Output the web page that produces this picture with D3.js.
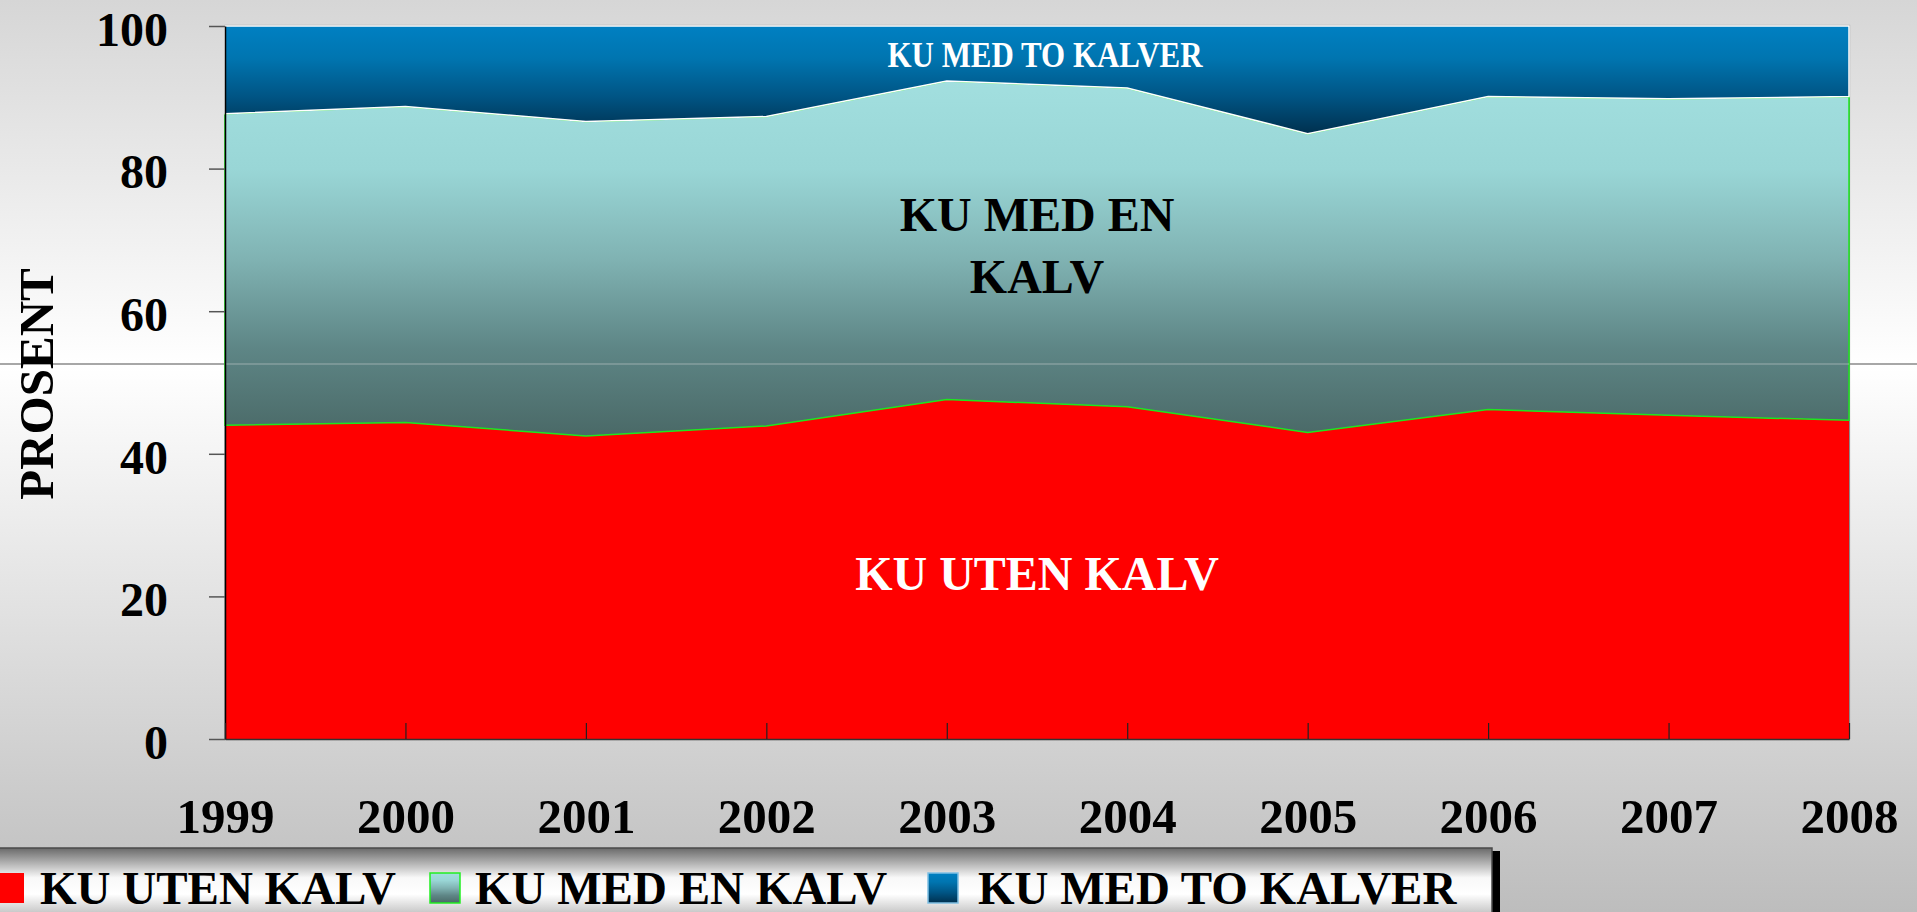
<!DOCTYPE html>
<html>
<head>
<meta charset="utf-8">
<script src="https://cdn.jsdelivr.net/npm/d3@7"></script>
<style>
  html, body { margin: 0; padding: 0; overflow: hidden; }
  svg { display: block; font-family: "Liberation Serif", "Times New Roman", serif; font-weight: bold; }
</style>
</head>
<body>
<div id="container"></div>
<script>
// data (percent of cows)
var years = ["1999", "2000", "2001", "2002", "2003", "2004", "2005", "2006", "2007", "2008"];
var utenKalv = [44.0, 44.4, 42.5, 43.9, 47.6, 46.6, 43.0, 46.2, 45.4, 44.7];
var enKalv   = [43.7, 44.3, 44.1, 43.4, 44.7, 44.7, 41.9, 43.9, 44.4, 45.4];
var toKalver = [12.3, 11.3, 13.4, 12.7, 7.7, 8.7, 15.1, 9.9, 10.2, 9.9];
var seriesNames = ["KU UTEN KALV", "KU MED EN KALV", "KU MED TO KALVER"];
var yTicks = [0, 20, 40, 60, 80, 100];

var W = 1917, H = 912;
// plot box (note: "top" is reserved on window, so use other names)
var plotLeft = 225, plotRight = 1849, plotTop = 26, plotBottom = 739;

var svg = d3.select("#container").append("svg")
    .attr("width", W).attr("height", H);

var defs = svg.append("defs");

function grad(id, stops) {
    var g = defs.append("linearGradient").attr("id", id)
        .attr("x1", 0).attr("y1", 0).attr("x2", 0).attr("y2", 1);
    stops.forEach(function (s) {
        g.append("stop").attr("offset", s[0]).attr("stop-color", s[1]);
    });
}
grad("bg", [[0, "#d6d6d6"], [0.4, "#ffffff"], [1, "#bdbdbd"]]);
grad("teal", [[0, "#a2dfdf"], [0.25, "#99d6d6"], [0.5, "#80b3b3"], [0.75, "#5e8686"], [1, "#4a6967"]]);
grad("blue", [[0, "#0080c2"], [0.3, "#0075b0"], [0.65, "#005585"], [1, "#00304e"]]);
grad("legendBg", [[0, "#6a6a6a"], [0.45, "#f8f8f8"], [0.7, "#ffffff"], [1, "#c4c4c4"]]);

// page background
svg.append("rect").attr("width", W).attr("height", H).attr("fill", "url(#bg)");
svg.append("line")
    .attr("x1", 0).attr("x2", W).attr("y1", 364).attr("y2", 364)
    .attr("stroke", "#8a8a8a").attr("stroke-width", 1.5);

// scales
var x = d3.scalePoint().domain(years).range([plotLeft, plotRight]);
var y = d3.scaleLinear().domain([0, 100]).range([plotBottom, plotTop]);

// plot frame
svg.append("rect")
    .attr("x", plotLeft).attr("y", plotTop - 0.5)
    .attr("width", plotRight - plotLeft + 0.5).attr("height", plotBottom - plotTop + 0.5)
    .attr("fill", "none").attr("stroke", "#8a8a8a").attr("stroke-width", 1.2);

// stacked areas
var table = years.map(function (yr, i) {
    return { year: yr, uten: utenKalv[i], en: enKalv[i], to: toKalver[i] };
});
var stack = d3.stack().keys(["uten", "en", "to"]);
var layers = stack(table);

var area = d3.area()
    .x(function (d) { return x(d.data.year); })
    .y0(function (d) { return y(d[0]); })
    .y1(function (d) { return y(d[1]); });

var fills = ["#ff0000", "url(#teal)", "url(#blue)"];
var strokes = ["none", "#1ee61e", "#ffffff"];

svg.append("g").selectAll("path")
    .data(layers)
    .join("path")
    .attr("d", area)
    .attr("fill", function (d, i) { return fills[i]; })
    .attr("stroke", function (d, i) { return strokes[i]; })
    .attr("stroke-width", 1.5);

// faint page line showing through the plot
svg.append("line")
    .attr("x1", plotLeft).attr("x2", plotRight).attr("y1", 364).attr("y2", 364)
    .attr("stroke", "#d8d8d8").attr("stroke-opacity", 0.35).attr("stroke-width", 1.5);

// y axis
var yAxis = svg.append("g")
    .attr("transform", "translate(" + plotLeft + ",0)")
    .call(d3.axisLeft(y).tickValues(yTicks).tickSize(16).tickPadding(41).tickSizeOuter(0));
yAxis.attr("font-family", null);
yAxis.select(".domain").attr("stroke", "#000").attr("stroke-width", 1.5);
yAxis.selectAll(".tick line").attr("stroke", "#555").attr("stroke-width", 1.5);
yAxis.selectAll(".tick text")
    .attr("font-size", 48).attr("fill", "#000").attr("dy", "0.4em");

// x axis
var xAxis = svg.append("g")
    .attr("transform", "translate(0," + plotBottom + ")")
    .call(d3.axisBottom(x).tickSizeInner(-16).tickSizeOuter(0));
xAxis.attr("font-family", null);
xAxis.select(".domain").attr("stroke", "#333").attr("stroke-width", 1.5);
xAxis.selectAll(".tick line").attr("stroke", "#222").attr("stroke-width", 1.2);
xAxis.selectAll(".tick text")
    .attr("font-size", 49).attr("fill", "#000").attr("y", 94).attr("dy", 0);

// y axis title
svg.append("text")
    .attr("transform", "translate(53,384) rotate(-90)")
    .attr("text-anchor", "middle")
    .attr("font-size", 49)
    .text("PROSENT");

// labels inside the areas
var cx = (plotLeft + plotRight) / 2;
svg.append("text").attr("x", cx + 8).attr("y", 67).attr("text-anchor", "middle")
    .attr("font-size", 35).attr("fill", "#fff")
    .attr("textLength", 315).attr("lengthAdjust", "spacingAndGlyphs")
    .text("KU MED TO KALVER");
svg.append("text").attr("x", cx).attr("y", 231).attr("text-anchor", "middle")
    .attr("font-size", 48).attr("fill", "#000").text("KU MED EN");
svg.append("text").attr("x", cx).attr("y", 293).attr("text-anchor", "middle")
    .attr("font-size", 48).attr("fill", "#000").text("KALV");
svg.append("text").attr("x", cx).attr("y", 590).attr("text-anchor", "middle")
    .attr("font-size", 48).attr("fill", "#fff").text("KU UTEN KALV");

// legend
var lg = svg.append("g");
lg.append("rect").attr("x", 1492).attr("y", 851).attr("width", 8).attr("height", 61).attr("fill", "#000");
lg.append("rect").attr("x", -2).attr("y", 848).attr("width", 1494).attr("height", 66)
    .attr("fill", "url(#legendBg)").attr("stroke", "#4a4a4a").attr("stroke-width", 1.5);

var legendSwatchX = [-6, 430, 928];
var legendTextX = [40, 475, 978];
var swatchStroke = ["none", "#22ee22", "#7fc0e4"];

var items = lg.selectAll("g.item")
    .data(seriesNames)
    .join("g").attr("class", "item");
items.append("rect")
    .attr("x", function (d, i) { return legendSwatchX[i]; })
    .attr("y", 873).attr("width", 30).attr("height", 30)
    .attr("fill", function (d, i) { return fills[i]; })
    .attr("stroke", function (d, i) { return swatchStroke[i]; })
    .attr("stroke-width", 1.5);
items.append("text")
    .attr("x", function (d, i) { return legendTextX[i]; })
    .attr("y", 904)
    .attr("font-size", 47)
    .attr("fill", "#000")
    .text(function (d) { return d; });
</script>
</body>
</html>
